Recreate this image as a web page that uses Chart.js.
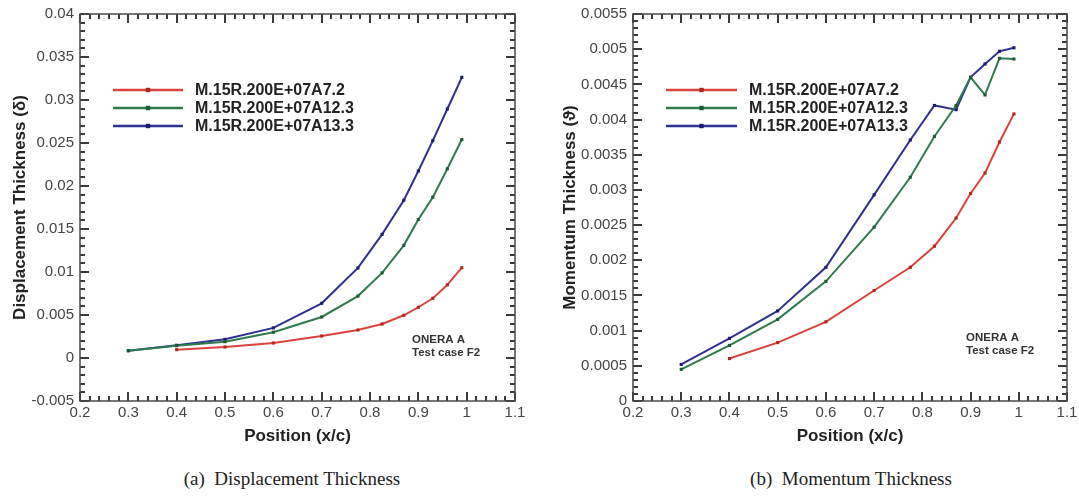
<!DOCTYPE html>
<html>
<head>
<meta charset="utf-8">
<script src="https://cdn.jsdelivr.net/npm/chart.js@4"></script>
<style>
  body { margin: 0; background: #fff; width: 1079px; height: 496px; position: relative; overflow: hidden; }
  .box { position: absolute; top: 0; }
  .cap { position: absolute; top: 468px; font-family: "Liberation Serif", serif; font-size: 19px; color: #222; transform: translateX(-50%); white-space: nowrap; }
</style>
</head>
<body>
<div class="box" style="left:0"><canvas id="cDisp" width="540" height="460"></canvas></div>
<div class="box" style="left:540px"><canvas id="cMom" width="539" height="460"></canvas></div>
<div class="cap" style="left:292px">(a)&nbsp; Displacement Thickness</div>
<div class="cap" style="left:851px">(b)&nbsp; Momentum Thickness</div>
<script>
// positions x/c
var xA72 = [0.4, 0.5, 0.6, 0.7, 0.775, 0.825, 0.87, 0.9, 0.93, 0.96, 0.99];
var xA12 = [0.3, 0.4, 0.5, 0.6, 0.7, 0.775, 0.825, 0.87, 0.9, 0.93, 0.96, 0.99];

// displacement thickness
var dispA72  = [0.00097, 0.00128, 0.00174, 0.00256, 0.00326, 0.00395, 0.00497, 0.0059, 0.00694, 0.0085, 0.0105];
var dispA123 = [0.00085, 0.00143, 0.0019, 0.0030, 0.00477, 0.0072, 0.0099, 0.0131, 0.0161, 0.0187, 0.0220, 0.0254];
var dispA133 = [0.00085, 0.00148, 0.00217, 0.0035, 0.00636, 0.01047, 0.01438, 0.01835, 0.02174, 0.02527, 0.02895, 0.03264];

// momentum thickness
var momA72  = [0.000603, 0.00083, 0.001125, 0.00157, 0.0019, 0.0022, 0.0026, 0.00295, 0.00324, 0.00368, 0.00408];
var momA123 = [0.00045, 0.00079, 0.00116, 0.0017, 0.00247, 0.00318, 0.00376, 0.0042, 0.0046, 0.00435, 0.00487, 0.00486];
var momA133 = [0.00052, 0.00089, 0.00128, 0.0019, 0.00293, 0.00371, 0.0042, 0.00414, 0.0046, 0.00479, 0.00497, 0.00502];

// axis ranges and minor tick steps (one major label every 5 minor ticks)
var xMin = 0.2, xMax = 1.1, pasMineurX = 0.02;
var dispMin = -0.005, dispMax = 0.04, pasMineurDisp = 0.001;
var momMin = 0, momMax = 0.0055, pasMineurMom = 0.0001;

var labels = ["M.15R.200E+07A7.2", "M.15R.200E+07A12.3", "M.15R.200E+07A13.3"];
var couleurs = ["#d8443b", "#2f7a4e", "#2f3190"];
var marqueurs = ["#b3261e", "#1d5a36", "#1c1d6b"];

var police = "'Liberation Sans', Arial, sans-serif";

function points(xs, ys) {
    var pts = [];
    for (var i = 0; i < ys.length; i++) pts.push({ x: xs[i], y: ys[i] });
    return pts;
}

function serie(k, xs, ys) {
    return {
        label: labels[k],
        data: points(xs, ys),
        showLine: true,
        borderColor: couleurs[k],
        borderWidth: 2,
        pointStyle: "rect",
        pointRadius: 2.2,
        pointBackgroundColor: marqueurs[k],
        pointBorderColor: marqueurs[k],
        pointBorderWidth: 0
    };
}

function nombre(v) {
    return String(parseFloat(v.toFixed(6)));
}

// frame and inward ticks (major 9px, minor 5px) on all four sides
function cadre(yMin, yMax, yMinor) {
    return {
        id: "cadre",
        afterDraw: function (chart) {
            var ctx = chart.ctx, a = chart.chartArea;
            var sx = chart.scales.x, sy = chart.scales.y;
            var L = a.left, R = a.right, T = a.top, B = a.bottom;
            function pixX(v) {
                var p = sx.getPixelForValue(v);
                return isFinite(p) ? p : L + (v - xMin) / (xMax - xMin) * (R - L);
            }
            function pixY(v) {
                var p = sy.getPixelForValue(v);
                return isFinite(p) ? p : B - (v - yMin) / (yMax - yMin) * (B - T);
            }
            ctx.save();
            ctx.fillStyle = "#3a3a3a";
            var nx = Math.round((xMax - xMin) / pasMineurX);
            for (var i = 0; i <= nx; i++) {
                var px = Math.round(pixX(xMin + i * pasMineurX));
                var l = (i % 5 == 0) ? 9 : 5;
                ctx.fillRect(px - 1, B - l, 2, l);
                ctx.fillRect(px - 1, T, 2, l);
            }
            var ny = Math.round((yMax - yMin) / yMinor);
            for (var j = 0; j <= ny; j++) {
                var py = Math.round(pixY(yMin + j * yMinor));
                var m = (j % 5 == 0) ? 9 : 5;
                ctx.fillRect(L, py - 1, m, 2);
                ctx.fillRect(R - m, py - 1, m, 2);
            }
            ctx.strokeStyle = "#4a4a4a";
            ctx.lineWidth = 1.5;
            ctx.strokeRect(L, T, R - L, B - T);
            ctx.restore();
        }
    };
}

// legend and annotation drawn inside the plot
function legende(lx0, lx1, tx, ly, nx, ny) {
    return {
        id: "legende",
        afterDatasetsDraw: function (chart) {
            var ctx = chart.ctx;
            ctx.save();
            chart.data.datasets.forEach(function (ds, k) {
                var y = ly + k * 18;
                ctx.strokeStyle = ds.borderColor;
                ctx.lineWidth = 2.4;
                ctx.beginPath(); ctx.moveTo(lx0, y); ctx.lineTo(lx1, y); ctx.stroke();
                ctx.fillStyle = ds.pointBackgroundColor;
                var mx = (lx0 + lx1) / 2;
                ctx.fillRect(mx - 2.2, y - 2.2, 4.4, 4.4);
                ctx.fillStyle = "#222";
                ctx.font = "bold 16px " + police;
                ctx.textBaseline = "middle";
                ctx.fillText(ds.label, tx, y + 1);
            });
            ctx.font = "bold 11.5px " + police;
            ctx.fillStyle = "#333";
            ctx.fillText("ONERA A", nx, ny);
            ctx.fillText("Test case F2", nx, ny + 13);
            ctx.restore();
        }
    };
}

function DessinerGraph(id, datasets, conf) {
    return new Chart(document.getElementById(id), {
        type: "scatter",
        data: { datasets: datasets },
        plugins: [cadre(conf.yMin, conf.yMax, conf.yMinor), conf.legende],
        options: {
            responsive: false,
            animation: false,
            devicePixelRatio: 1,
            layout: { padding: { top: 14, right: conf.padRight, bottom: 9, left: 0 } },
            plugins: {
                legend: { display: false },
                tooltip: { enabled: false }
            },
            scales: {
                x: {
                    type: "linear",
                    min: xMin,
                    max: xMax,
                    grid: { display: false, drawTicks: false },
                    border: { display: false },
                    ticks: {
                        stepSize: 0.1,
                        padding: 3,
                        color: "#444",
                        font: { family: police, size: 15 },
                        callback: nombre
                    },
                    title: {
                        display: true,
                        text: "Position (x/c)",
                        color: "#222",
                        padding: { top: 0, bottom: 4 },
                        font: { family: police, size: 17, weight: "bold" }
                    },
                    afterFit: function (s) { s.height = 50; s.paddingLeft = 0; s.paddingRight = 0; }
                },
                y: {
                    type: "linear",
                    min: conf.yMin,
                    max: conf.yMax,
                    grid: { display: false, drawTicks: false },
                    border: { display: false },
                    ticks: {
                        stepSize: conf.yStep,
                        padding: 6,
                        color: "#444",
                        font: { family: police, size: 15 },
                        callback: nombre
                    },
                    title: {
                        display: true,
                        text: conf.titre,
                        color: "#222",
                        padding: { top: conf.titrePad, bottom: 0 },
                        font: { family: police, size: 17, weight: "bold" }
                    },
                    afterFit: function (s) { s.width = conf.yWidth; s.paddingTop = 0; s.paddingBottom = 0; }
                }
            }
        }
    });
}

DessinerGraph("cDisp", [
    serie(0, xA72, dispA72),
    serie(1, xA12, dispA123),
    serie(2, xA12, dispA133)
], {
    yMin: dispMin, yMax: dispMax, yStep: 0.005, yMinor: pasMineurDisp,
    yWidth: 80, padRight: 25, titrePad: 10,
    titre: "Displacement Thickness (δ)",
    legende: legende(113, 183, 195, 90, 412, 340)
});

DessinerGraph("cMom", [
    serie(0, xA72, momA72),
    serie(1, xA12, momA123),
    serie(2, xA12, momA133)
], {
    yMin: momMin, yMax: momMax, yStep: 0.0005, yMinor: pasMineurMom,
    yWidth: 93, padRight: 12, titrePad: 20,
    titre: "Momentum Thickness (ϑ)",
    legende: legende(126, 197, 209, 90, 426, 338)
});
</script>
</body>
</html>
